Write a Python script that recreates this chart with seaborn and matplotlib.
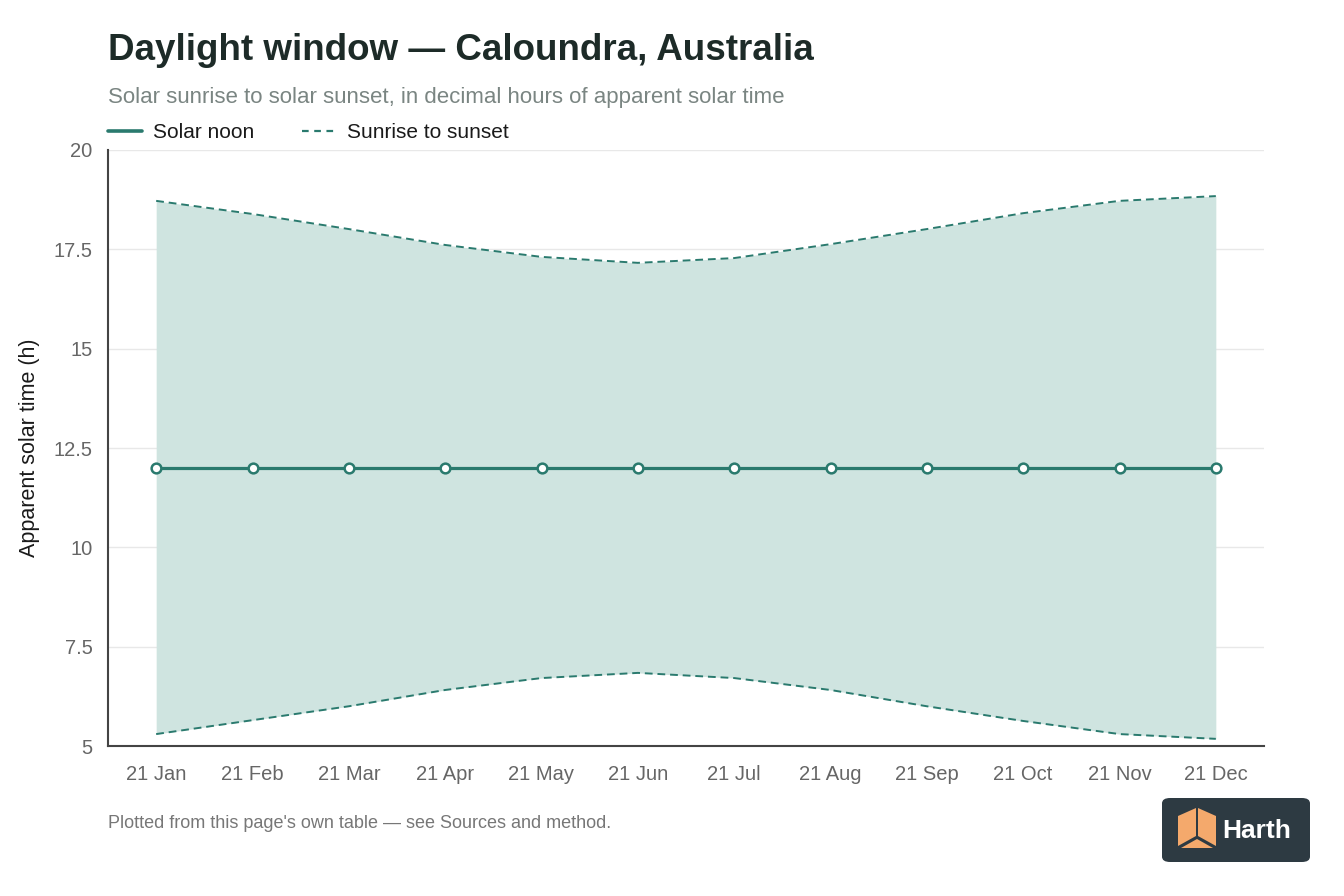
import matplotlib
matplotlib.use("Agg")
import matplotlib.pyplot as plt
import seaborn as sns
import pandas as pd
from matplotlib.patches import FancyBboxPatch, Polygon
from matplotlib.lines import Line2D

months = ["21 Jan", "21 Feb", "21 Mar", "21 Apr", "21 May", "21 Jun",
          "21 Jul", "21 Aug", "21 Sep", "21 Oct", "21 Nov", "21 Dec"]
sunrise = [5.30, 5.65, 6.00, 6.41, 6.71, 6.84, 6.71, 6.41, 6.00, 5.63, 5.30, 5.18]
sunset = [18.72, 18.39, 18.01, 17.61, 17.31, 17.16, 17.28, 17.63, 18.01, 18.41, 18.72, 18.84]
noon = [12.0] * 12
yticks = [5, 7.5, 10, 12.5, 15, 17.5, 20]
ytick_labels = ["5", "7.5", "10", "12.5", "15", "17.5", "20"]

sns.set_theme(style="white")
plt.rcParams["font.family"] = ["Liberation Sans", "DejaVu Sans"]

teal = "#2a7a6e"
fill_c = "#cfe4e0"

df = pd.DataFrame({"month": months, "x": range(len(months)),
                   "sunrise": sunrise, "sunset": sunset, "noon": noon})

fig = plt.figure(figsize=(13.44, 8.96), dpi=100)
ax = fig.add_axes([108/1344, 1-746/896, (1264-108)/1344, (746-150)/896])

ax.fill_between(df["x"], df["sunrise"], df["sunset"], color=fill_c, lw=0, zorder=1)
sns.lineplot(data=df, x="x", y="sunset", ax=ax, color=teal, lw=1.4,
             linestyle=(0, (4, 2.5)), zorder=3)
sns.lineplot(data=df, x="x", y="sunrise", ax=ax, color=teal, lw=1.4,
             linestyle=(0, (4, 2.5)), zorder=3)
sns.lineplot(data=df, x="x", y="noon", ax=ax, color=teal, lw=2.3, zorder=4,
             marker="o", markersize=7, markerfacecolor="white",
             markeredgecolor=teal, markeredgewidth=1.8)

ax.set_xlim(-0.5, 11.5)
ax.set_ylim(5, 20)
ax.set_xticks(range(len(months)))
ax.set_xticklabels(months)
ax.set_yticks(yticks)
ax.set_yticklabels(ytick_labels)
ax.tick_params(axis="both", colors="#666666", labelsize=14.5, length=0)
ax.tick_params(axis="x", pad=14)
ax.tick_params(axis="y", pad=11)
ax.grid(axis="y", color="#e8e8e8", lw=1, zorder=0)
ax.set_axisbelow(True)
ax.set_xlabel("")
ax.set_ylabel("Apparent solar time (h)", fontsize=15.5, color="#1a1a1a", labelpad=10)
for s in ["top", "right"]:
    ax.spines[s].set_visible(False)
for s in ["left", "bottom"]:
    ax.spines[s].set_color("#444444")
    ax.spines[s].set_linewidth(1.5)

fig.text(108/1344, 1-51/896, "Daylight window \u2014 Caloundra, Australia",
         fontsize=26.5, fontweight="bold", color="#1d2b28", va="center", ha="left")
fig.text(108/1344, 1-98/896, "Solar sunrise to solar sunset, in decimal hours of apparent solar time",
         fontsize=16, color="#7a8582", va="center", ha="left")

handles = [Line2D([], [], color=teal, lw=2.6),
           Line2D([], [], color=teal, lw=1.6, linestyle=(0, (3, 2.5)))]
leg = fig.legend(handles, ["Solar noon", "Sunrise to sunset"], loc="center left",
                 bbox_to_anchor=(108/1344, 1-133/896), ncol=2, frameon=False,
                 fontsize=15, handlelength=1.65, handletextpad=0.5, columnspacing=2.3,
                 borderpad=0, borderaxespad=0)
for t in leg.get_texts():
    t.set_color("#1a1a1a")

fig.text(108/1344, 1-823/896, "Plotted from this page's own table \u2014 see Sources and method.",
         fontsize=13, color="#777777", va="center", ha="left")

# logo badge
bx0, by0, bw, bh = 1162/1344, 1-862/896, 148/1344, 64/896
badge = FancyBboxPatch((bx0, by0), bw, bh, boxstyle="round,pad=0,rounding_size=0.006",
                       transform=fig.transFigure, facecolor="#2d3a42", edgecolor="none")
fig.patches.append(badge)
def P(px, py):
    return (px/1344, 1-py/896)
cube_l = Polygon([P(1178, 816), P(1196, 808), P(1196, 836), P(1178, 846)],
                 closed=True, transform=fig.transFigure, facecolor="#f4a96c", edgecolor="none")
cube_r = Polygon([P(1198, 808), P(1216, 816), P(1216, 846), P(1198, 836)],
                 closed=True, transform=fig.transFigure, facecolor="#f4a96c", edgecolor="none")
cube_b = Polygon([P(1181, 848), P(1197, 839), P(1213, 848)],
                 closed=True, transform=fig.transFigure, facecolor="#f4a96c", edgecolor="none")
for p in (cube_l, cube_r, cube_b):
    fig.patches.append(p)
fig.text(1222/1344, 1-831/896, "Harth", fontsize=19, fontweight="bold", color="white",
         va="center", ha="left")

fig.savefig("out.png", dpi=100, facecolor="white")
